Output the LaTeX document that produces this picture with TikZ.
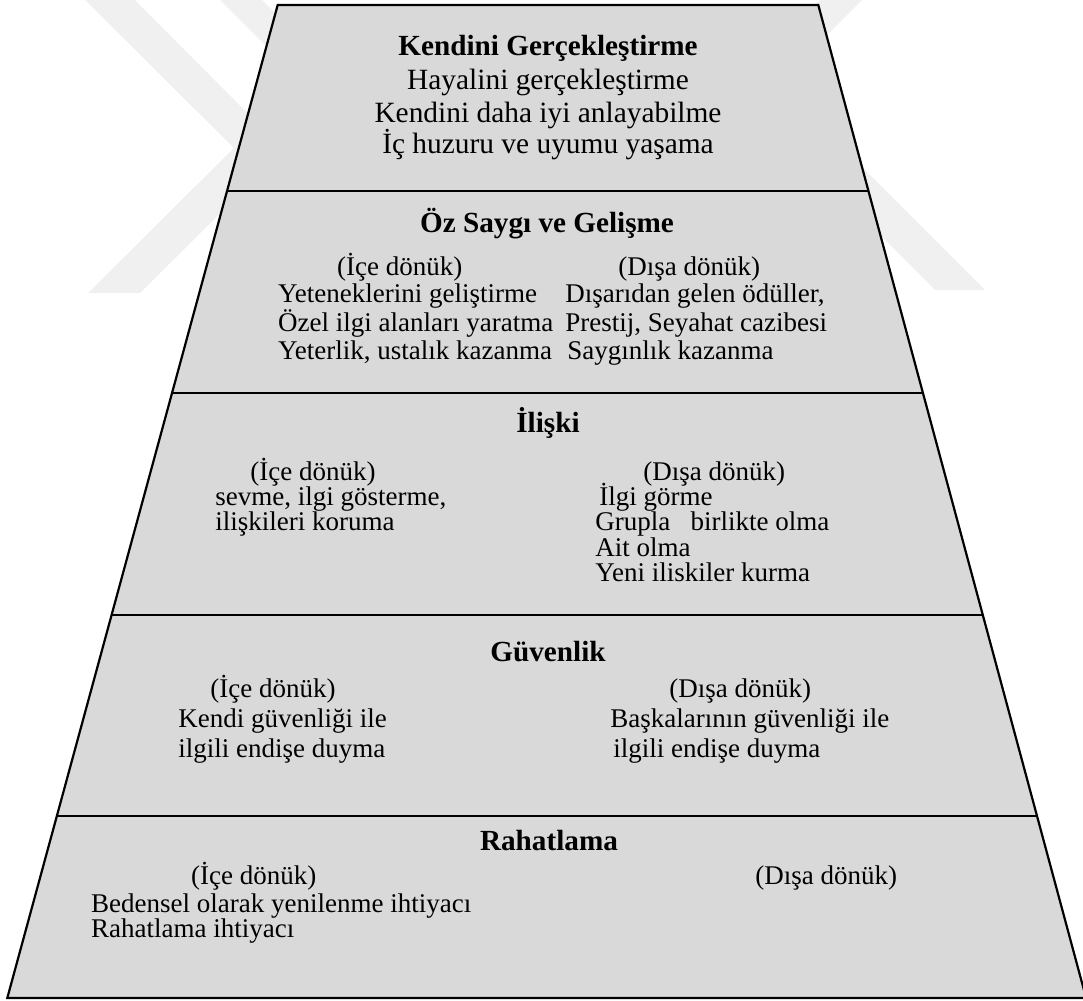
\documentclass[tikz,border=0pt]{standalone}
\usepackage{fontspec}
\setmainfont{Liberation Serif}
\definecolor{pyrfill}{RGB}{217,217,217}
\definecolor{wmark}{RGB}{240,240,240}
\begin{document}
\begin{tikzpicture}[x=0.5pt,y=-0.5pt,
  edge/.style={line width=1.1pt, line join=miter},
  ttl/.style={font=\fontsize{14.6}{17}\selectfont\bfseries, anchor=base, inner sep=0pt},
  ctr/.style={font=\fontsize{14.7}{17}\selectfont, anchor=base, inner sep=0pt},
  txt/.style={font=\fontsize{13.5}{16}\selectfont, anchor=base west, inner sep=0pt}]
\useasboundingbox (0,0) rectangle (1083,1001);

% faint background emblem
\fill[wmark] (85,0) -- (135,0) -- (284,150) -- (140,293) -- (88,293) -- (234,148) -- cycle;
\fill[wmark] (220,0) -- (262,0) -- (330,68) -- (288,68) -- cycle;
\fill[wmark] (820,0) -- (862,0) -- (794,68) -- (752,68) -- cycle;
\fill[wmark] (935,290) -- (985,290) -- (760,65) -- (710,65) -- cycle;

% pyramid outline and level boundaries
\coordinate (tl) at (277.7,5);   \coordinate (tr) at (818.3,5);
\coordinate (l1) at (227.1,191); \coordinate (r1) at (868.5,191);
\coordinate (l2) at (172.1,393); \coordinate (r2) at (922.9,393);
\coordinate (l3) at (111.6,615); \coordinate (r3) at (982.8,615);
\coordinate (l4) at (56.9,816);  \coordinate (r4) at (1037.0,816);
\coordinate (bl) at (7.3,998);   \coordinate (br) at (1086.1,998);

\fill[pyrfill] (tl) -- (tr) -- (br) -- (bl) -- cycle;
\draw[edge] (tl) -- (tr) -- (br) -- (bl) -- cycle;
\draw[edge] (l1) -- (r1);
\draw[edge] (l2) -- (r2);
\draw[edge] (l3) -- (r3);
\draw[edge] (l4) -- (r4);

% level 5
\node[ttl] (k0) at (548,55) {Kendini Gerçekleştirme};
\node[ctr] (k1) at (548,90) {Hayalini gerçekleştirme};
\node[ctr] (k2) at (548,122) {Kendini daha iyi anlayabilme};
\node[ctr] (k3) at (548,153) {İç huzuru ve uyumu yaşama};

% level 4
\node[ttl] (o0) at (547,232) {Öz Saygı ve Gelişme};
\node[txt] (oi) at (336.7,275) {(İçe dönük)};
\node[txt] (oi1) at (277.7,302) {Yeteneklerini geliştirme};
\node[txt] (oi2) at (277.7,331) {Özel ilgi alanları yaratma};
\node[txt] (oi3) at (277.7,359) {Yeterlik, ustalık kazanma};
\node[txt] (od) at (618,275) {(Dışa dönük)};
\node[txt] (od1) at (565,302) {Dışarıdan gelen ödüller,};
\node[txt] (od2) at (565,331) {Prestij, Seyahat cazibesi};
\node[txt] (od3) at (567,359) {Saygınlık kazanma};

% level 3
\node[ttl] (i0) at (548,432) {İlişki};
\node[txt] (ii) at (250,480) {(İçe dönük)};
\node[txt] (ii1) at (215,505) {sevme, ilgi gösterme,};
\node[txt] (ii2) at (215,530) {ilişkileri koruma};
\node[txt] (id) at (643,480) {(Dışa dönük)};
\node[txt] (id1) at (599,505) {İlgi görme};
\node[txt] (id2) at (595,530) {Grupla\ \ \ birlikte olma};
\node[txt] (id3) at (595,556) {Ait olma};
\node[txt] (id4) at (595,581) {Yeni iliskiler kurma};

% level 2
\node[ttl] (g0) at (548,661) {Güvenlik};
\node[txt] (gi) at (210,697) {(İçe dönük)};
\node[txt] (gi1) at (178,727) {Kendi güvenliği ile};
\node[txt] (gi2) at (178,757) {ilgili endişe duyma};
\node[txt] (gd) at (669,697) {(Dışa dönük)};
\node[txt] (gd1) at (610,727) {Başkalarının güvenliği ile};
\node[txt] (gd2) at (613,757) {ilgili endişe duyma};

% level 1
\node[ttl] (r0) at (549,850) {Rahatlama};
\node[txt] (ri) at (190.7,884) {(İçe dönük)};
\node[txt] (ri1) at (90.7,912) {Bedensel olarak yenilenme ihtiyacı};
\node[txt] (ri2) at (90.7,937) {Rahatlama ihtiyacı};
\node[txt] (rd) at (755,884) {(Dışa dönük)};
\end{tikzpicture}
\end{document}
